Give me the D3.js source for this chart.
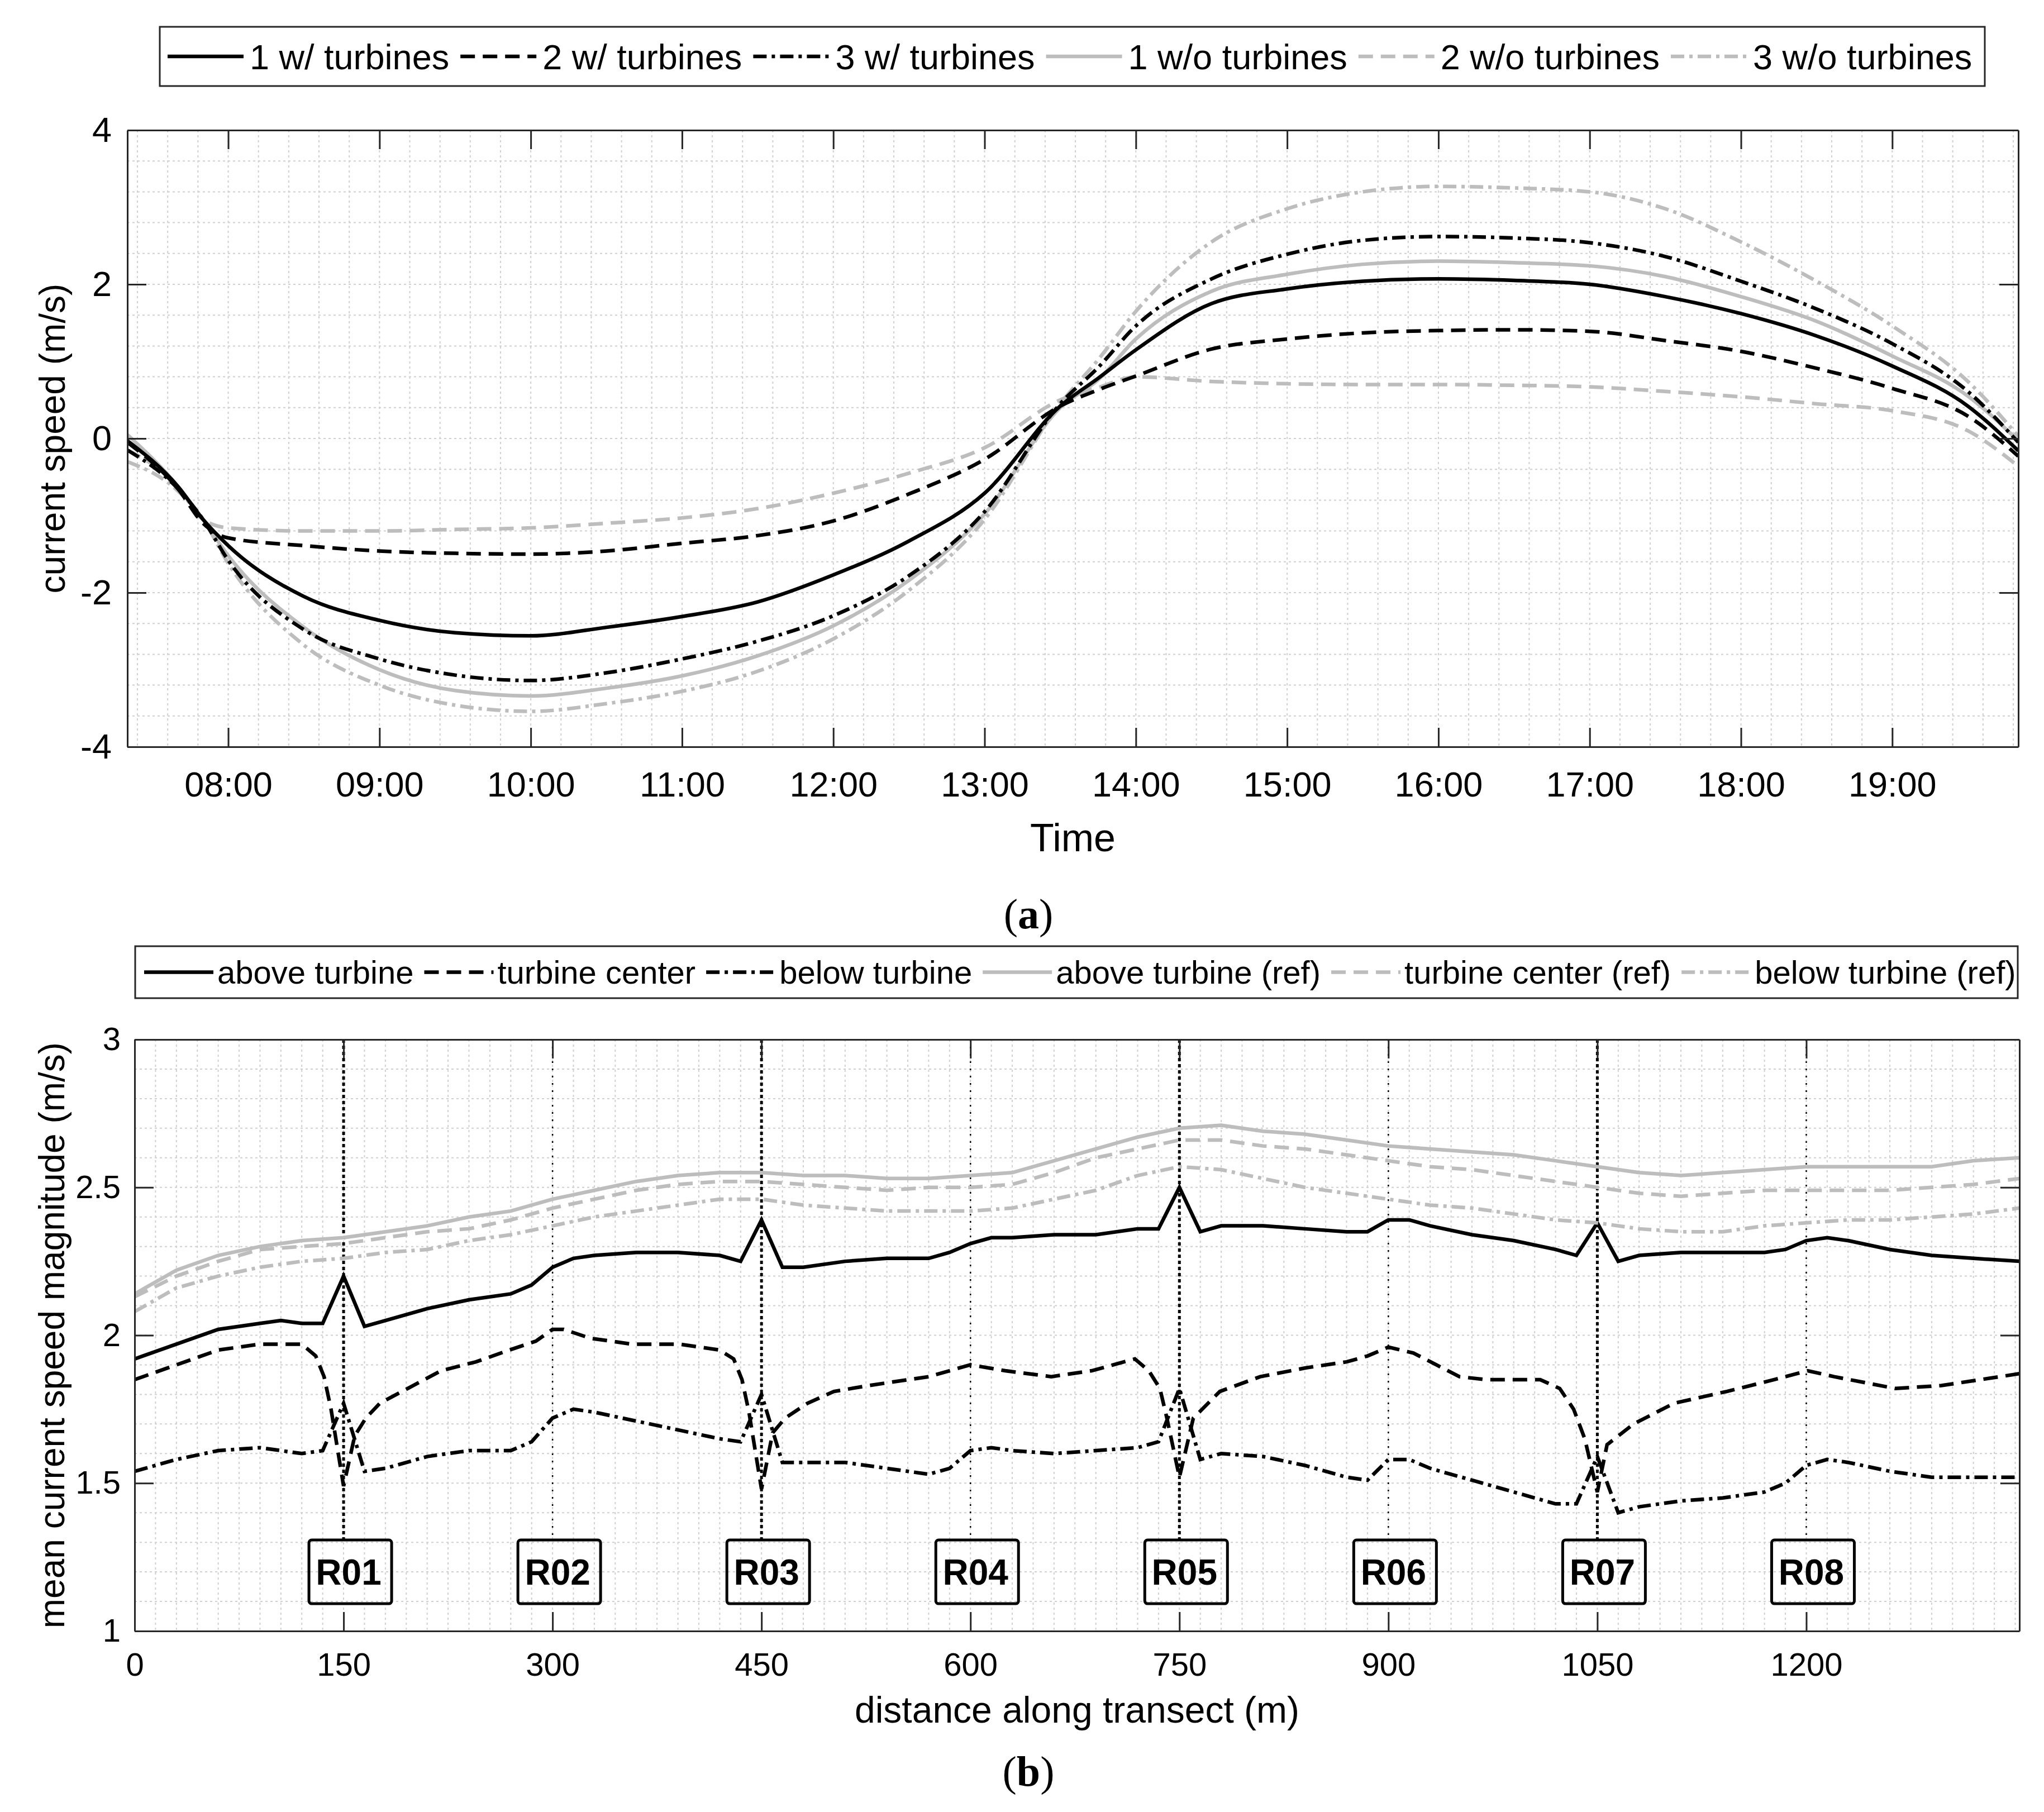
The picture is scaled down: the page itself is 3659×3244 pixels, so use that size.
<!DOCTYPE html>
<html>
<head>
<meta charset="utf-8">
<script src="https://cdn.jsdelivr.net/npm/d3@7"></script>
<style>
  body { margin: 0; background: #fff; }
  text { font-family: "Liberation Sans", Arial, sans-serif; fill: #000; }
</style>
</head>
<body>
<script>
// ---------- panel (a) data : current speed vs time ----------
var timeLabels = ["07:20","07:40","07:50","08:00","08:30","09:00","09:30","10:00","10:30","11:00","11:30","12:00","12:30",
                  "13:00","13:30","13:45","14:00","14:30","15:00","15:30","16:00","16:30","17:00","17:30","18:00","18:30",
                  "19:00","19:30","19:50"];
var with1 = [-0.03,-0.62,-1.05,-1.39,-2.05,-2.36,-2.52,-2.56,-2.45,-2.31,-2.12,-1.77,-1.33,-0.71,0.42,0.78,1.15,1.75,1.94,2.04,2.07,2.05,2.00,1.84,1.62,1.33,0.94,0.42,-0.16];
var with2 = [-0.05,-0.65,-1.10,-1.29,-1.39,-1.46,-1.49,-1.50,-1.46,-1.36,-1.26,-1.07,-0.72,-0.27,0.42,0.63,0.81,1.16,1.29,1.37,1.40,1.41,1.39,1.27,1.13,0.91,0.65,0.29,-0.23];
var with3 = [-0.15,-0.65,-1.05,-1.58,-2.48,-2.86,-3.07,-3.14,-3.04,-2.86,-2.63,-2.30,-1.78,-0.95,0.45,0.92,1.46,2.07,2.39,2.57,2.62,2.60,2.54,2.36,2.04,1.68,1.23,0.61,-0.05];
var without1 = [0.05,-0.62,-1.05,-1.52,-2.45,-3.00,-3.27,-3.34,-3.24,-3.08,-2.82,-2.43,-1.84,-0.98,0.40,0.76,1.29,1.91,2.13,2.26,2.30,2.28,2.24,2.10,1.84,1.52,1.07,0.55,-0.03];
var without2 = [-0.15,-0.62,-1.05,-1.16,-1.20,-1.20,-1.18,-1.16,-1.10,-1.03,-0.91,-0.71,-0.45,-0.12,0.50,0.66,0.80,0.74,0.71,0.70,0.70,0.69,0.67,0.61,0.54,0.45,0.36,0.10,-0.36];
var without3 = [-0.30,-0.68,-1.05,-1.62,-2.68,-3.20,-3.46,-3.54,-3.44,-3.28,-3.02,-2.60,-1.97,-1.05,0.45,1.02,1.65,2.55,2.98,3.20,3.27,3.25,3.20,2.98,2.55,2.04,1.46,0.74,0.03];
var legendA = ["1 w/ turbines","2 w/ turbines","3 w/ turbines","1 w/o turbines","2 w/o turbines","3 w/o turbines"];
var yTicksA = [-4,-2,0,2,4];

// ---------- panel (b) data : mean speed along transect ----------
var refDist = [0,30,60,90,120,150,180,210,240,270,300,330,360,390,420,450,480,510,540,570,600,630,660,690,720,750,
               780,810,840,870,900,930,960,990,1020,1050,1080,1110,1140,1170,1200,1230,1260,1290,1320,1353];
var aboveRef  = [2.14,2.22,2.27,2.30,2.32,2.33,2.35,2.37,2.40,2.42,2.46,2.49,2.52,2.54,2.55,2.55,2.54,2.54,2.53,2.53,2.54,2.55,2.59,2.63,2.67,2.70,
                 2.71,2.69,2.68,2.66,2.64,2.63,2.62,2.61,2.59,2.57,2.55,2.54,2.55,2.56,2.57,2.57,2.57,2.57,2.59,2.60];
var centerRef = [2.13,2.20,2.25,2.29,2.30,2.31,2.33,2.35,2.36,2.39,2.43,2.46,2.49,2.51,2.52,2.52,2.51,2.50,2.49,2.50,2.50,2.51,2.55,2.60,2.63,2.66,
                 2.66,2.64,2.63,2.61,2.59,2.57,2.56,2.54,2.52,2.50,2.48,2.47,2.48,2.49,2.49,2.49,2.49,2.50,2.51,2.53];
var belowRef  = [2.08,2.16,2.20,2.23,2.25,2.26,2.28,2.29,2.32,2.34,2.37,2.40,2.42,2.44,2.46,2.46,2.44,2.43,2.42,2.42,2.42,2.43,2.46,2.49,2.54,2.57,
                 2.56,2.53,2.50,2.48,2.46,2.44,2.43,2.41,2.39,2.38,2.36,2.35,2.35,2.37,2.38,2.39,2.39,2.40,2.41,2.43];

var aboveDist = [0,30,60,90,105,120,135,150,165,180,210,240,270,285,300,315,330,360,390,420,435,450,465,480,510,540,570,585,600,615,630,660,
                 690,720,735,750,765,780,810,840,870,885,900,915,930,960,990,1020,1035,1050,1065,1080,1110,1140,1170,1185,1200,1215,1230,1260,1290,1320,1353];
var aboveVal  = [1.92,1.97,2.02,2.04,2.05,2.04,2.04,2.20,2.03,2.05,2.09,2.12,2.14,2.17,2.23,2.26,2.27,2.28,2.28,2.27,2.25,2.39,2.23,2.23,2.25,2.26,2.26,2.28,2.31,2.33,2.33,2.34,
                 2.34,2.36,2.36,2.50,2.35,2.37,2.37,2.36,2.35,2.35,2.39,2.39,2.37,2.34,2.32,2.29,2.27,2.38,2.25,2.27,2.28,2.28,2.28,2.29,2.32,2.33,2.32,2.29,2.27,2.26,2.25];

var centerDist = [0,30,60,90,120,130,136,141,150,158,166,176,196,220,245,269,288,300,308,327,357,391,420,430,436,441,450,458,467,483,502,527,570,600,625,658,
                  687,718,728,736,741,750,760,779,808,841,870,885,900,918,951,970,1009,1023,1033,1041,1050,1057,1076,1105,1143,1177,1201,1220,1264,1297,1353];
var centerVal  = [1.85,1.90,1.95,1.97,1.97,1.93,1.86,1.75,1.49,1.66,1.72,1.77,1.82,1.88,1.91,1.95,1.98,2.02,2.02,1.99,1.97,1.97,1.95,1.92,1.85,1.74,1.48,1.67,1.72,1.77,1.81,1.83,1.86,1.90,1.88,1.86,
                  1.88,1.92,1.88,1.82,1.72,1.52,1.72,1.81,1.86,1.89,1.91,1.93,1.96,1.94,1.86,1.85,1.85,1.82,1.75,1.65,1.47,1.63,1.70,1.77,1.81,1.85,1.88,1.86,1.82,1.83,1.87];

var belowDist = [0,30,60,90,120,135,150,165,180,210,240,270,285,300,315,330,360,390,420,435,450,465,480,510,540,570,585,600,615,630,660,
                 690,720,735,750,765,780,810,840,870,885,900,915,930,960,990,1020,1035,1050,1065,1080,1110,1140,1170,1185,1200,1215,1230,1260,1290,1320,1353];
var belowVal  = [1.54,1.58,1.61,1.62,1.60,1.61,1.77,1.54,1.55,1.59,1.61,1.61,1.64,1.72,1.75,1.74,1.71,1.68,1.65,1.64,1.80,1.57,1.57,1.57,1.55,1.53,1.55,1.61,1.62,1.61,1.60,
                 1.61,1.62,1.64,1.82,1.58,1.60,1.59,1.56,1.52,1.51,1.58,1.58,1.55,1.51,1.47,1.43,1.43,1.59,1.40,1.42,1.44,1.45,1.47,1.50,1.56,1.58,1.57,1.54,1.52,1.52,1.52];

var legendB = ["above turbine","turbine center","below turbine","above turbine (ref)","turbine center (ref)","below turbine (ref)"];
var xTicksB = [0,150,300,450,600,750,900,1050,1200];
var yTicksB = [1,1.5,2,2.5,3];
var markerDist = [150,300,450,600,750,900,1050,1200];
var markerLabels = ["R01","R02","R03","R04","R05","R06","R07","R08"];
var markerTurbine = [true,false,true,false,true,false,true,false];
var markerLabelY = 1.2;

// ---------- styles ----------
var AXC = "#262626", GREY = "#bdbdbd";
var styles = [
  {color: "#000", dash: null},
  {color: "#000", dash: "26,14"},
  {color: "#000", dash: "24,9,6,9"},
  {color: GREY, dash: null},
  {color: GREY, dash: "26,14"},
  {color: GREY, dash: "24,9,6,9"}
];
var LW = 6.5;
var plainNum = function(d) { return String(d); };   // hyphen minus, no thousands comma

var svg = d3.select("body").append("svg")
  .attr("width", 3659)
  .attr("height", 3244);

function legend(items, box, opt) {
  var g = svg.append("g");
  g.append("rect")
    .attr("x", box.x0).attr("y", box.y0)
    .attr("width", box.x1 - box.x0).attr("height", box.y1 - box.y0)
    .attr("fill", "#fff").attr("stroke", AXC).attr("stroke-width", 3);
  var ym = (box.y0 + box.y1) / 2;
  var x = opt.start;
  items.forEach(function(name, i) {
    g.append("line")
      .attr("x1", x).attr("x2", x + opt.len)
      .attr("y1", ym).attr("y2", ym)
      .attr("stroke", styles[i].color)
      .attr("stroke-width", LW)
      .attr("stroke-dasharray", styles[i].dash);
    var t = g.append("text")
      .attr("x", x + opt.len + opt.gap)
      .attr("y", ym + opt.size * 0.36)
      .style("font-size", opt.size + "px")
      .text(name);
    x += opt.len + opt.gap + t.node().getComputedTextLength() + opt.after;
  });
}

function frame(g, x, y, m, xAxisGen, yAxisGen, fs) {
  g.append("g").attr("transform", "translate(0," + m.bottom + ")").call(xAxisGen);
  g.append("g").attr("transform", "translate(" + m.left + ",0)").call(yAxisGen);
  g.append("g").attr("transform", "translate(0," + m.top + ")")
    .call(d3.axisTop(x).tickValues(xAxisGen.tickValues()).ticks(xAxisGen.tickArguments()[0])
      .tickSize(-34).tickSizeOuter(0).tickFormat(""));
  g.append("g").attr("transform", "translate(" + m.right + ",0)")
    .call(d3.axisRight(y).tickValues(yAxisGen.tickValues()).tickSize(-34).tickSizeOuter(0).tickFormat(""));
  g.selectAll(".domain").attr("stroke", AXC).attr("stroke-width", 3);
  g.selectAll(".tick line").attr("stroke", AXC).attr("stroke-width", 3);
  g.selectAll(".tick text").style("font-size", fs + "px").attr("fill", "#000")
    .style("font-family", "'Liberation Sans', Arial, sans-serif");
}

// ======================= panel (a) =======================
var ma = {left: 228, right: 3613, top: 233, bottom: 1337};
var parseT = d3.timeParse("%H:%M");
var xa = d3.scaleTime().domain([parseT("07:20"), parseT("19:50")]).range([ma.left, ma.right]);
var ya = d3.scaleLinear().domain([-4, 4]).range([ma.bottom, ma.top]);

legend(legendA, {x0: 286, x1: 3553, y0: 48, y1: 154}, {start: 300, len: 136, gap: 11, after: 20, size: 63});

var ga = svg.append("g");
var gridA = ga.append("g").attr("stroke", "#d0d0d0").attr("stroke-width", 2).attr("stroke-dasharray", "4,5");
gridA.selectAll("line.v").data(d3.timeMinute.every(12).range(xa.domain()[0], xa.domain()[1])).enter()
  .append("line").attr("x1", function(d) { return xa(d); }).attr("x2", function(d) { return xa(d); })
  .attr("y1", ma.top).attr("y2", ma.bottom);
gridA.selectAll("line.h").data(d3.range(-4, 4.001, 0.4)).enter()
  .append("line").attr("y1", function(d) { return ya(d); }).attr("y2", function(d) { return ya(d); })
  .attr("x1", ma.left).attr("x2", ma.right);

svg.append("clipPath").attr("id", "clipA").append("rect")
  .attr("x", ma.left).attr("y", ma.top).attr("width", ma.right - ma.left).attr("height", ma.bottom - ma.top);

var seriesA = [with1, with2, with3, without1, without2, without3];
var lineA = d3.line()
  .x(function(d, i) { return xa(parseT(timeLabels[i])); })
  .y(function(d) { return ya(d); })
  .curve(d3.curveMonotoneX);
var plotA = ga.append("g").attr("clip-path", "url(#clipA)");
[3, 4, 5, 0, 1, 2].forEach(function(k) {
  plotA.append("path").datum(seriesA[k])
    .attr("d", lineA).attr("fill", "none")
    .attr("stroke", styles[k].color).attr("stroke-width", LW)
    .attr("stroke-dasharray", styles[k].dash);
});

var xAxisA = d3.axisBottom(xa).ticks(d3.timeHour.every(1)).tickFormat(d3.timeFormat("%H:%M"))
  .tickSize(-34).tickSizeOuter(0).tickPadding(44);
var yAxisA = d3.axisLeft(ya).tickValues(yTicksA).tickFormat(plainNum).tickSize(-34).tickSizeOuter(0).tickPadding(28);
frame(ga, xa, ya, ma, xAxisA, yAxisA, 63);

ga.append("text").attr("x", (ma.left + ma.right) / 2).attr("y", 1524)
  .attr("text-anchor", "middle").style("font-size", "70px").text("Time");
ga.append("text").attr("transform", "rotate(-90)")
  .attr("x", -(ma.top + ma.bottom) / 2).attr("y", 116)
  .attr("text-anchor", "middle").style("font-size", "64px").text("current speed (m/s)");

var capA = svg.append("text").attr("x", 1841).attr("y", 1662).attr("text-anchor", "middle")
  .style("font-family", "'Liberation Serif', 'Times New Roman', serif").style("font-size", "76px");
capA.append("tspan").text("(");
capA.append("tspan").style("font-weight", "bold").text("a");
capA.append("tspan").text(")");

// ======================= panel (b) =======================
var mb = {left: 241, right: 3615, top: 1861, bottom: 2920};
var xb = d3.scaleLinear().domain([0, 1353]).range([mb.left, mb.right]);
var yb = d3.scaleLinear().domain([1, 3]).range([mb.bottom, mb.top]);

legend(legendB, {x0: 242, x1: 3612, y0: 1694, y1: 1787}, {start: 258, len: 124, gap: 7, after: 19, size: 58});

var gb = svg.append("g");
var gridB = gb.append("g").attr("stroke", "#d0d0d0").attr("stroke-width", 2).attr("stroke-dasharray", "4,5");
gridB.selectAll("line.v").data(d3.range(15, 1353, 15)).enter()
  .append("line").attr("x1", function(d) { return xb(d); }).attr("x2", function(d) { return xb(d); })
  .attr("y1", mb.top).attr("y2", mb.bottom);
gridB.selectAll("line.h").data(d3.range(1.1, 3.0, 0.1)).enter()
  .append("line").attr("y1", function(d) { return yb(d); }).attr("y2", function(d) { return yb(d); })
  .attr("x1", mb.left).attr("x2", mb.right);

// receiver markers
var boxW = 148, boxH = 114;
var markers = gb.append("g");
markerDist.forEach(function(d, i) {
  var bold = markerTurbine[i];
  var cx = xb(d) + 12, cy = yb(markerLabelY);
  markers.append("line")
    .attr("x1", xb(d)).attr("x2", xb(d))
    .attr("y1", mb.top).attr("y2", cy - boxH / 2)
    .attr("stroke", "#000")
    .attr("stroke-width", bold ? 5 : 2.5)
    .attr("stroke-dasharray", bold ? "6,5" : "3,10");
  markers.append("rect")
    .attr("x", cx - boxW / 2).attr("y", cy - boxH / 2)
    .attr("width", boxW).attr("height", boxH).attr("rx", 5)
    .attr("fill", "none").attr("stroke", "#000").attr("stroke-width", 5);
  markers.append("text")
    .attr("x", cx - 3).attr("y", cy).attr("dy", "0.36em")
    .attr("text-anchor", "middle")
    .style("font-size", "64px").style("font-weight", "bold")
    .text(markerLabels[i]);
});

svg.append("clipPath").attr("id", "clipB").append("rect")
  .attr("x", mb.left).attr("y", mb.top).attr("width", mb.right - mb.left).attr("height", mb.bottom - mb.top);

var seriesB = [
  {x: aboveDist, y: aboveVal},
  {x: centerDist, y: centerVal},
  {x: belowDist, y: belowVal},
  {x: refDist, y: aboveRef},
  {x: refDist, y: centerRef},
  {x: refDist, y: belowRef}
];
var plotB = gb.append("g").attr("clip-path", "url(#clipB)");
seriesB.forEach(function(s, k) {
  var ln = d3.line()
    .x(function(d, i) { return xb(s.x[i]); })
    .y(function(d) { return yb(d); });
  plotB.append("path").datum(s.y)
    .attr("d", ln).attr("fill", "none")
    .attr("stroke", styles[k].color).attr("stroke-width", LW)
    .attr("stroke-linejoin", "miter")
    .attr("stroke-dasharray", styles[k].dash);
});

var xAxisB = d3.axisBottom(xb).tickValues(xTicksB).tickFormat(plainNum).tickSize(-34).tickSizeOuter(0).tickPadding(39);
var yAxisB = d3.axisLeft(yb).tickValues(yTicksB).tickFormat(plainNum).tickSize(-34).tickSizeOuter(0).tickPadding(25);
frame(gb, xb, yb, mb, xAxisB, yAxisB, 58);

gb.append("text").attr("x", (mb.left + mb.right) / 2).attr("y", 3084)
  .attr("text-anchor", "middle").style("font-size", "66px").text("distance along transect (m)");
gb.append("text").attr("transform", "rotate(-90)")
  .attr("x", -(mb.top + mb.bottom) / 2).attr("y", 115)
  .attr("text-anchor", "middle").style("font-size", "64px").text("mean current speed magnitude (m/s)");

var capB = svg.append("text").attr("x", 1841).attr("y", 3197).attr("text-anchor", "middle")
  .style("font-family", "'Liberation Serif', 'Times New Roman', serif").style("font-size", "76px");
capB.append("tspan").text("(");
capB.append("tspan").style("font-weight", "bold").text("b");
capB.append("tspan").text(")");
</script>
</body>
</html>
